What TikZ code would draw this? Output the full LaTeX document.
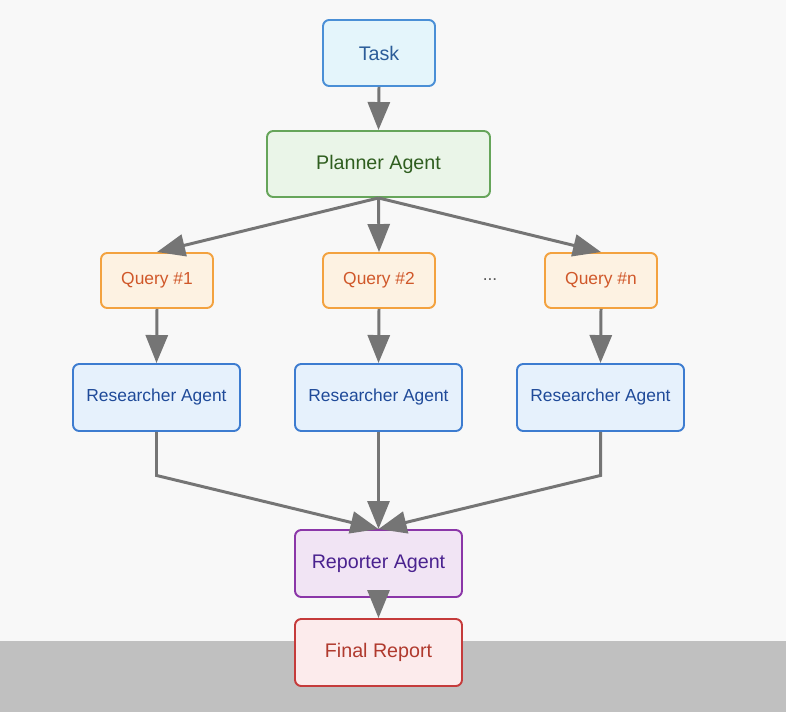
\documentclass[tikz,border=0pt]{standalone}
\usepackage{fontspec}
\setmainfont{Liberation Sans}
\usetikzlibrary{arrows.meta}
\definecolor{bgcol}{HTML}{F8F8F8}
\definecolor{bandcol}{HTML}{C0C0C0}
\definecolor{arrowcol}{HTML}{757575}
\definecolor{taskline}{HTML}{4A8FD6}\definecolor{taskfill}{HTML}{E4F5FB}\definecolor{tasktext}{HTML}{2B5C99}
\definecolor{planline}{HTML}{66A55A}\definecolor{planfill}{HTML}{EAF5E8}\definecolor{plantext}{HTML}{2F5E1F}
\definecolor{qline}{HTML}{F3A23F}\definecolor{qfill}{HTML}{FDF2E2}\definecolor{qtext}{HTML}{D0582A}
\definecolor{resline}{HTML}{3D7CD0}\definecolor{resfill}{HTML}{E6F1FC}\definecolor{restext}{HTML}{1F4A99}
\definecolor{repline}{HTML}{8B36A8}\definecolor{repfill}{HTML}{F1E4F4}\definecolor{reptext}{HTML}{4A228F}
\definecolor{finline}{HTML}{C53B3B}\definecolor{finfill}{HTML}{FCEBEC}\definecolor{fintext}{HTML}{B03A2E}
\tikzset{
  box/.style={draw,rounded corners=3.5pt,line width=1.1pt,minimum height=1.32cm,inner sep=0pt,
    font=\fontsize{11.2}{13}\selectfont},
  small/.style={font=\fontsize{9.9}{12}\selectfont},
  flow/.style={draw=arrowcol,line width=1.7pt,-{Triangle[length=0.56cm,width=0.44cm]}}
}
\begin{document}
\begin{tikzpicture}[x=0.02cm,y=-0.02cm]
  \fill[bgcol] (0,0) rectangle (786,712);
  \useasboundingbox (0,0) rectangle (786,712);
  \fill[bandcol] (0,641) rectangle (786,712);
  % top
  \node[box,draw=taskline,fill=taskfill,text=tasktext,minimum width=2.24cm] (task) at (379,53) {Task};
  \node[box,draw=planline,fill=planfill,text=plantext,minimum width=4.46cm] (plan) at (378.5,164) {Planner Agent};
  % queries and researchers
  \foreach \i/\x/\t in {1/157/\#1,2/379/\#2,n/601/\#n} {
    \node[box,small,draw=qline,fill=qfill,text=qtext,minimum width=2.24cm,minimum height=1.1cm] (q\i) at (\x,280.5) {Query \t};
    \node[box,small,draw=resline,fill=resfill,text=restext,minimum width=3.34cm,minimum height=1.34cm] (r\i) at (\x-0.5,397.5) {Researcher Agent};
    \draw[flow] (plan.south) -- (q\i.north);
    \draw[flow] (q\i.south) -- (r\i.north);
  }
  \node[small,text=black!65] (dots) at (490,280) {...};
  % bottom
  \node[box,draw=repline,fill=repfill,text=reptext,minimum width=3.34cm,minimum height=1.34cm] (rep) at (378.5,563.5) {Reporter Agent};
  \node[box,draw=finline,fill=finfill,text=fintext,minimum width=3.34cm,minimum height=1.34cm] (fin) at (378.5,652.5) {Final Report};
  \draw[flow] (task.south) -- (plan.north);
  \draw[flow] (r1.south) -- ++(0,43.5) -- (rep.north);
  \draw[flow] (r2.south) -- (rep.north);
  \draw[flow] (rn.south) -- ++(0,43.5) -- (rep.north);
  \draw[flow] (rep.south) -- (fin.north);
\end{tikzpicture}
\end{document}
